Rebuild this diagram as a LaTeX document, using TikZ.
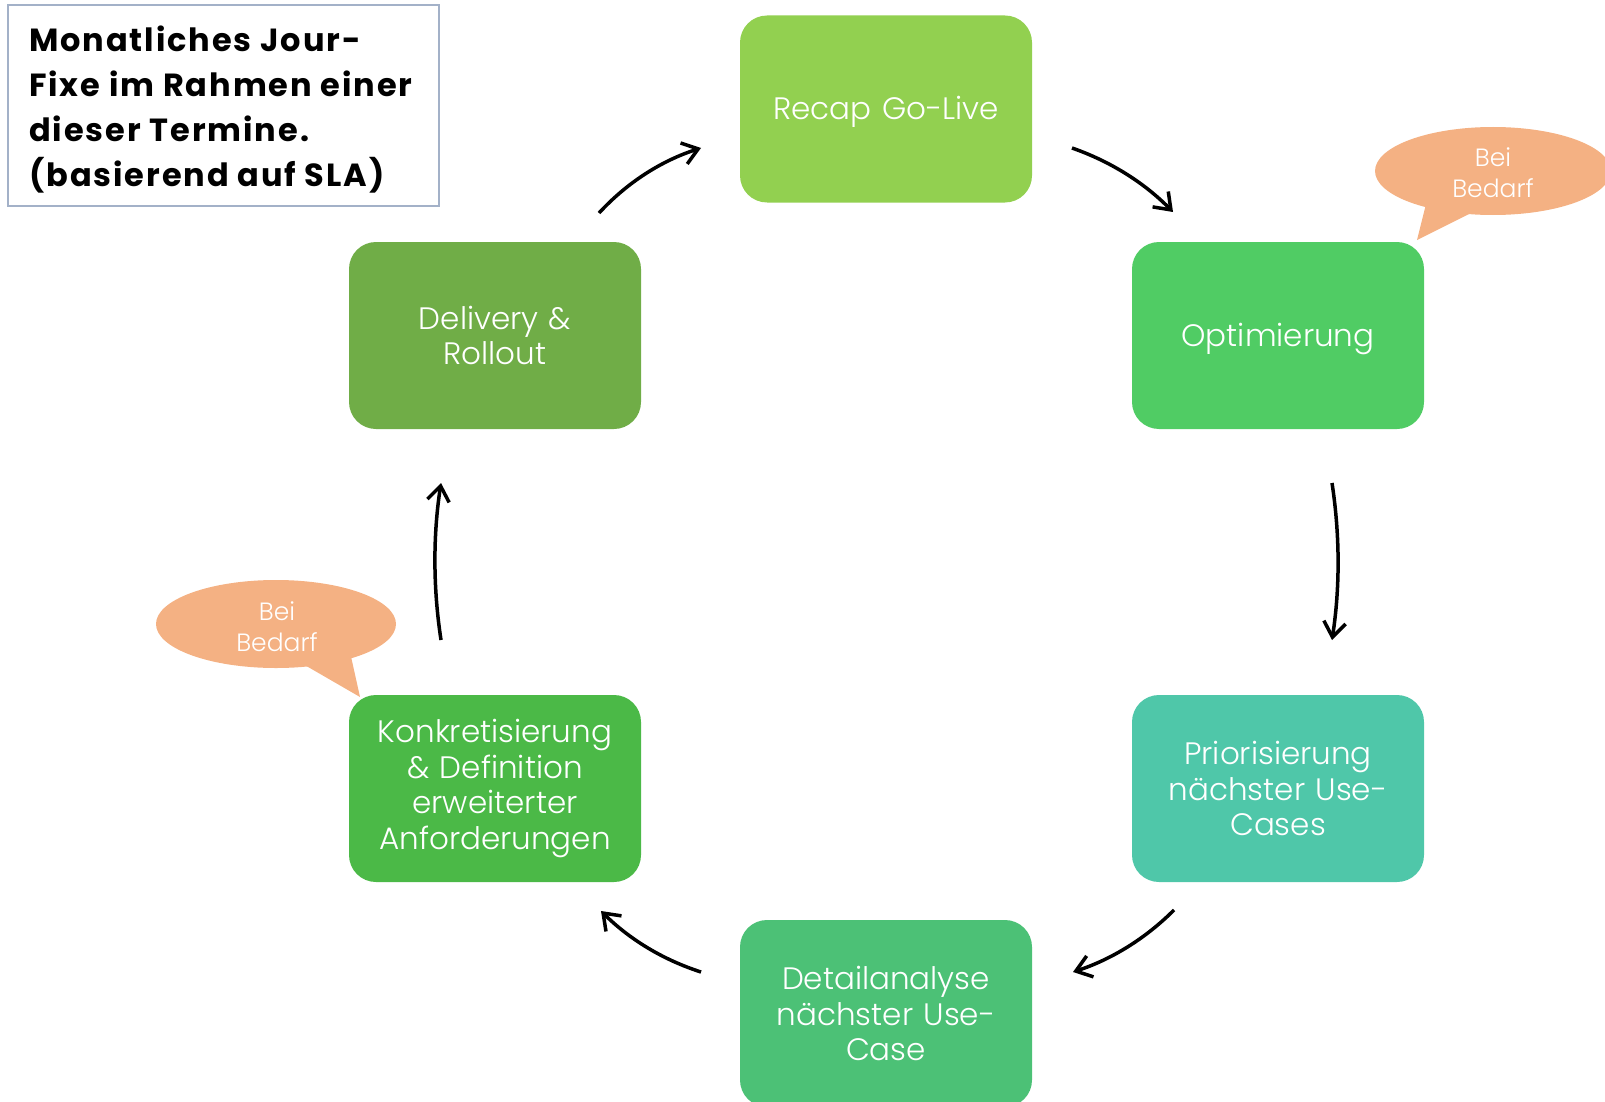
\documentclass[tikz,border=0pt]{standalone}
\usepackage{fontspec}
\setmainfont{Poppins}
\newfontfamily\lightfont{Poppins Light}
\usetikzlibrary{arrows.meta,shapes.geometric}
\definecolor{cRecap}{HTML}{92D050}
\definecolor{cOpt}{HTML}{50CC64}
\definecolor{cPrio}{HTML}{4FC7A9}
\definecolor{cDet}{HTML}{4CC176}
\definecolor{cKon}{HTML}{4BB947}
\definecolor{cDel}{HTML}{70AD47}
\definecolor{cCall}{HTML}{F4B183}
\definecolor{cFrame}{HTML}{A3B1C8}
\begin{document}
\begin{tikzpicture}[x=1pt,y=-1pt,
  stepbox/.style={rectangle, rounded corners=27pt, minimum width=292pt, minimum height=187pt,
    text width=280pt, align=center, text=white, inner sep=0pt,
    font=\lightfont\fontsize{31}{35.5}\selectfont},
  oneline/.style={text height=27pt, text depth=6pt},
  bubble/.style={ellipse, fill=cCall, inner sep=0pt},
  bubbletext/.style={text=white, align=center, font=\lightfont\fontsize{25}{31}\selectfont},
  flow/.style={line width=3.5pt, -{Straight Barb[length=15pt,width=22pt,line width=3.5pt]}}
]
\useasboundingbox (0,0) rectangle (1605,1102);
\clip (0,0) rectangle (1605,1102);

% title box
\node[draw=cFrame, line width=2.5pt, rectangle, minimum width=431pt, minimum height=201pt, inner sep=0pt] (tbox) at (223.5,105.5) {};
\node[anchor=west, align=left, inner sep=0pt, font=\fontsize{32}{45}\selectfont\bfseries] (ttext) at (29,109.5)
  {\addfontfeatures{LetterSpace=6}Monatliches Jour-\\\addfontfeatures{LetterSpace=6}Fixe im Rahmen einer\\\addfontfeatures{LetterSpace=6}dieser Termine.\\\addfontfeatures{LetterSpace=6}(basierend auf SLA)};

% callouts
\node[bubble, minimum width=236pt, minimum height=88pt] (b1) at (1493,171) {};
\coordinate (b1tip) at (1417,240);
\fill[cCall] (1427,200) -- (b1tip) -- (1477,210) -- cycle;
\node[bubbletext] (b1t) at (1493,173) {Bei\\Bedarf};

\node[bubble, minimum width=240pt, minimum height=88pt] (b2) at (276,624) {};
\coordinate (b2tip) at (360,697);
\fill[cCall] (296,660) -- (b2tip) -- (350,652) -- cycle;
\node[bubbletext] (b2t) at (277,627) {Bei\\Bedarf};

% step boxes
\node[stepbox, oneline, fill=cRecap] (recap) at (886,109) {Recap Go-Live};
\node[stepbox, oneline, fill=cOpt] (opt) at (1278,335.5) {Optimierung};
\node[stepbox, fill=cPrio] (prio) at (1278,788.5) {Priorisierung\\nächster Use-\\Cases};
\node[stepbox, fill=cDet] (det) at (886,1013.5) {Detailanalyse\\nächster Use-\\Case};
\node[stepbox, fill=cKon] (kon) at (495,788.5) {Konkretisierung\\\& Definition\\erweiterter\\Anforderungen};
\node[stepbox, fill=cDel] (del) at (495,335.5) {Delivery \&\\Rollout};

% arrow end points
\coordinate (a1s) at (599,213); \coordinate (a1e) at (701,148);
\coordinate (a2s) at (1072,148); \coordinate (a2e) at (1173,212);
\coordinate (a3s) at (1332,483); \coordinate (a3e) at (1332,640);
\coordinate (a4s) at (1174,910); \coordinate (a4e) at (1073,972);
\coordinate (a5s) at (701,972); \coordinate (a5e) at (601,911);
\coordinate (a6s) at (441,640); \coordinate (a6e) at (441,483);

\draw[flow] (a1s) .. controls (627.3,182.4) and (661.3,160.7) .. (a1e);
\draw[flow] (a2s) .. controls (1110.7,161.5) and (1144.3,182.8) .. (a2e);
\draw[flow] (a3s) .. controls (1340,535.3) and (1340,587.7) .. (a3e);
\draw[flow] (a4s) .. controls (1145.3,938.7) and (1111.6,959.3) .. (a4e);
\draw[flow] (a5s) .. controls (662.8,959.7) and (629.5,939.3) .. (a5e);
\draw[flow] (a6s) .. controls (433,587.7) and (433,535.3) .. (a6e);
\end{tikzpicture}
\end{document}
